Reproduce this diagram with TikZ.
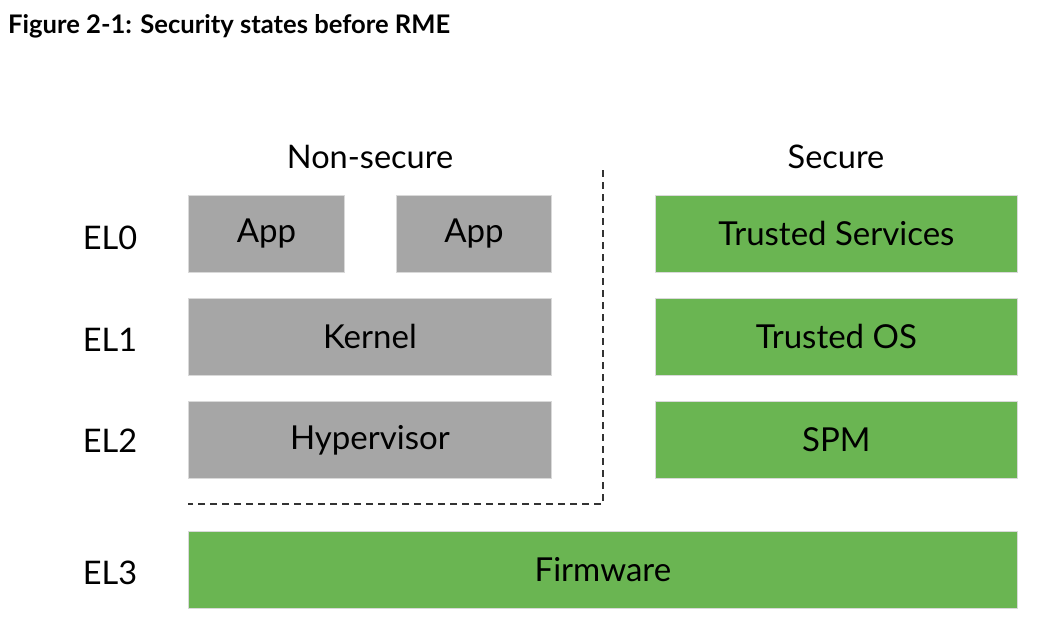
\documentclass[tikz,border=0pt]{standalone}
\usepackage{fontspec}
\setmainfont{Lato}
\definecolor{boxgray}{HTML}{A6A6A6}
\definecolor{boxgreen}{HTML}{6AB552}
\begin{document}
\begin{tikzpicture}[x=1pt,y=-1pt,
  blk/.style={draw=white!85!black, line width=0.8pt, inner sep=0pt, anchor=north west, font=\fontsize{33}{38}\selectfont},
  gbox/.style={blk, fill=boxgray},
  sbox/.style={blk, fill=boxgreen},
  ellab/.style={font=\fontsize{32.5}{38}\selectfont, anchor=center},
  hdr/.style={font=\fontsize{32.5}{38}\selectfont, anchor=center},
  sep/.style={draw=black!80, line width=1.6pt, dash pattern=on 7pt off 5pt}]
\useasboundingbox (0,0) rectangle (1039,627);
\node[anchor=base west, font=\bfseries\fontsize{25.6}{30}\selectfont, inner sep=0pt] (title) at (8,33) {Figure 2-1: Security states before RME};
\node[hdr] (ns) at (370,157) {Non-secure};
\node[hdr] (sec) at (836,157) {Secure};
\node[ellab] (el0) at (110,238) {EL0};
\node[ellab] (el1) at (110,340) {EL1};
\node[ellab] (el2) at (110,441) {EL2};
\node[ellab] (el3) at (110,573) {EL3};
\node[gbox, minimum width=156pt, minimum height=77pt] (app1) at (188,195) {App};
\node[gbox, minimum width=155pt, minimum height=77pt] (app2) at (396,195) {App};
\node[gbox, minimum width=363pt, minimum height=77pt] (kern) at (188,298) {Kernel};
\node[gbox, minimum width=363pt, minimum height=77pt] (hyp) at (188,401) {Hypervisor};
\node[sbox, minimum width=362pt, minimum height=77pt] (ts) at (655,195) {Trusted Services};
\node[sbox, minimum width=362pt, minimum height=77pt] (tos) at (655,298) {Trusted OS};
\node[sbox, minimum width=362pt, minimum height=77pt] (spm) at (655,401) {SPM};
\node[sbox, minimum width=829pt, minimum height=77pt] (fw) at (188,531) {Firmware};
\coordinate (d1) at (603,170);
\coordinate (d2) at (603,504);
\coordinate (d3) at (188,504);
\draw[sep] (d1) -- (d2) -- (d3);
\end{tikzpicture}
\end{document}
